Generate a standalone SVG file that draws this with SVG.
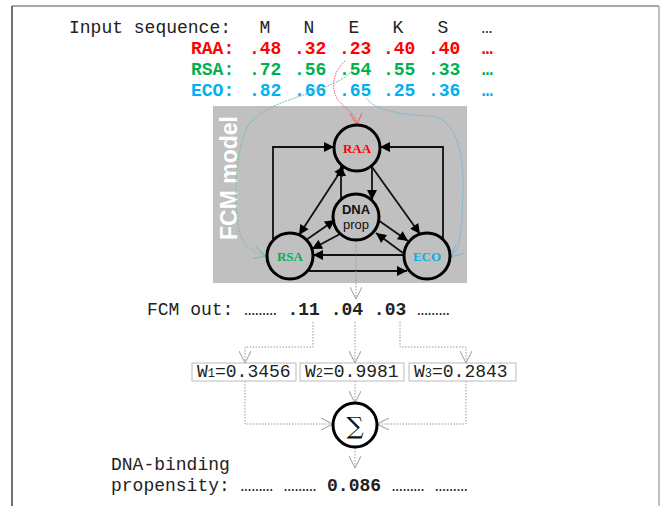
<svg xmlns="http://www.w3.org/2000/svg" width="666" height="506" viewBox="0 0 666 506">
<style>
.mono{font-family:"Liberation Mono","Courier New",monospace;font-size:18px;fill:#222}
.b{font-weight:bold}
.red{fill:#ff0000}.grn{fill:#00b050}.blu{fill:#00b0f0}
.node{fill:none;stroke:#000;stroke-width:3}
.edge{fill:none;stroke:#111;stroke-width:1.8}
.dot{fill:none;stroke:#999;stroke-width:1;stroke-dasharray:1.5 1.5}
.wbox{fill:#fff;stroke:#bbb;stroke-width:1}
.nl{font-family:"Liberation Serif","Times New Roman",serif;font-weight:bold;font-size:13px;text-anchor:middle}
.ns{font-family:"Liberation Sans",Arial,sans-serif;font-size:13px;text-anchor:middle;fill:#111}
</style>
<defs>
<marker id="ah" viewBox="0 0 10 10" refX="10" refY="5" markerWidth="12" markerHeight="10" markerUnits="userSpaceOnUse" orient="auto-start-reverse"><path d="M0,0 L10,5 L0,10 z" fill="#000"/></marker>
<marker id="v" viewBox="0 0 12 12" refX="12" refY="6" markerWidth="12" markerHeight="12" markerUnits="userSpaceOnUse" orient="auto"><path d="M0,0 L12,6 L0,12" fill="none" stroke="#999" stroke-width="1"/></marker>
<marker id="vr" viewBox="0 0 12 12" refX="12" refY="6" markerWidth="12" markerHeight="12" markerUnits="userSpaceOnUse" orient="auto"><path d="M0,0 L12,6 L0,12" fill="none" stroke="#f06060" stroke-width="1"/></marker>
<marker id="vg" viewBox="0 0 12 12" refX="12" refY="6" markerWidth="12" markerHeight="12" markerUnits="userSpaceOnUse" orient="auto"><path d="M0,0 L12,6 L0,12" fill="none" stroke="#70c0a0" stroke-width="1"/></marker>
<marker id="vb" viewBox="0 0 12 12" refX="12" refY="6" markerWidth="12" markerHeight="12" markerUnits="userSpaceOnUse" orient="auto"><path d="M0,0 L12,6 L0,12" fill="none" stroke="#70b8d8" stroke-width="1"/></marker>
</defs>

<!-- frame -->
<line x1="12" y1="6" x2="659" y2="6" stroke="#888" stroke-width="1.5"/>
<line x1="12" y1="6" x2="12" y2="506" stroke="#444" stroke-width="1.5"/>
<line x1="659" y1="6" x2="659" y2="506" stroke="#aaa" stroke-width="1.5"/>

<!-- input rows -->
<g id="input-rows">
<text class="mono" x="69" y="33">Input sequence:</text>
<g class="mono" text-anchor="middle">
<text x="265" y="33">M</text><text x="309" y="33">N</text><text x="354" y="33">E</text><text x="398" y="33">K</text><text x="443" y="33">S</text><text x="487" y="33">…</text>
</g>
<g class="mono b">
<text x="191" y="54" class="red">RAA:</text>
<text x="249" y="54" class="red">.48</text><text x="294" y="54" class="red">.32</text><text x="339" y="54" class="red">.23</text><text x="383" y="54" class="red">.40</text><text x="428" y="54" class="red">.40</text><text x="482" y="54" class="red">…</text>
</g>
<g class="mono b">
<text x="191" y="75" class="grn">RSA:</text>
<text x="249" y="75" class="grn">.72</text><text x="294" y="75" class="grn">.56</text><text x="339" y="75" class="grn">.54</text><text x="383" y="75" class="grn">.55</text><text x="428" y="75" class="grn">.33</text><text x="482" y="75" class="grn">…</text>
</g>
<g class="mono b">
<text x="191" y="96" class="blu">ECO:</text>
<text x="249" y="96" class="blu">.82</text><text x="294" y="96" class="blu">.66</text><text x="339" y="96" class="blu">.65</text><text x="383" y="96" class="blu">.25</text><text x="428" y="96" class="blu">.36</text><text x="482" y="96" class="blu">…</text>
</g>
</g>

<!-- FCM model box -->
<g id="fcm-model">
<rect x="213" y="106" width="254" height="177" fill="#c0c0c0"/>
<text transform="translate(237,178) rotate(-90)" text-anchor="middle" font-family="Liberation Sans,Arial,sans-serif" font-weight="bold" font-size="23" fill="#fff">FCM model</text>
</g>

<!-- connectors -->
<g id="connectors">
<polyline class="edge" points="273,239 273,147 334,147" marker-end="url(#ah)" stroke-width="2.2"/>
<polyline class="edge" points="443,239 443,147 380,147" marker-end="url(#ah)" stroke-width="2.2"/>
<line class="edge" x1="309" y1="271" x2="407" y2="271" marker-end="url(#ah)" stroke-width="2.2"/>
<line class="edge" x1="403" y1="255" x2="313" y2="255" marker-end="url(#ah)" stroke-width="2.2"/>
<line class="edge" x1="344" y1="166" x2="299" y2="235" marker-start="url(#ah)" marker-end="url(#ah)"/>
<line class="edge" x1="372" y1="165" x2="372" y2="200" marker-end="url(#ah)"/>
<line class="edge" x1="341" y1="201" x2="341" y2="166" marker-end="url(#ah)"/>
<line class="edge" x1="372" y1="167" x2="420" y2="234" marker-end="url(#ah)"/>
<line class="edge" x1="306" y1="240" x2="335" y2="220" marker-end="url(#ah)"/>
<line class="edge" x1="340" y1="234" x2="312" y2="249" marker-end="url(#ah)"/>
<line class="edge" x1="378" y1="220" x2="408" y2="241" marker-end="url(#ah)"/>
<line class="edge" x1="403" y1="253" x2="376" y2="233" marker-end="url(#ah)"/>
<path d="M345,61 C333,72 330,88 338,100 C345,109 356,112 357,125" fill="none" stroke="#f06060" stroke-width="1" stroke-dasharray="1.5 1" marker-end="url(#vr)"/>
<path d="M352,71 C330,95 262,98 247,128 C232,160 235,215 240,234 C245,248 255,253 266,256" fill="none" stroke="#70c0a0" stroke-width="1" stroke-dasharray="2 1" marker-end="url(#vg)"/>
<path d="M366,98 C375,110 400,115 430,116 C455,118 464,150 463,190 C462,228 461,248 451,257" fill="none" stroke="#70b8d8" stroke-width="1" stroke-dasharray="2 1" marker-end="url(#vb)"/>
<line class="dot" x1="356" y1="241" x2="356" y2="299" marker-end="url(#v)"/>
<polyline class="dot" points="313,322 313,347 245,347 245,363" marker-end="url(#v)"/>
<line class="dot" x1="355" y1="322" x2="355" y2="363" marker-end="url(#v)"/>
<polyline class="dot" points="400,322 400,347 466,347 466,363" marker-end="url(#v)"/>
<polyline class="dot" points="245,381 245,424 333,424" marker-end="url(#v)"/>
<line class="dot" x1="355" y1="381" x2="355" y2="403" marker-end="url(#v)"/>
<polyline class="dot" points="466,381 466,424 377,424" marker-end="url(#v)"/>
<line class="dot" x1="355" y1="448" x2="355" y2="468" marker-end="url(#v)"/>
</g>

<!-- nodes -->
<g id="node-raa"><circle class="node" cx="357" cy="148" r="23"/><text class="nl red" x="357" y="153">RAA</text></g>
<g id="node-dna"><circle class="node" cx="356" cy="217" r="23"/><text class="ns" x="356" y="214" font-weight="bold">DNA</text><text class="ns" x="356" y="229">prop</text></g>
<g id="node-rsa"><circle class="node" cx="290" cy="256" r="23"/><text class="nl grn" x="290" y="261">RSA</text></g>
<g id="node-eco"><circle class="node" cx="427" cy="256" r="23"/><text class="nl blu" x="427" y="261">ECO</text></g>

<!-- FCM out -->
<g id="fcm-out">
<text class="mono" x="147" y="315">FCM out: ……… <tspan class="b">.11 .04 .03</tspan> ………</text>
</g>

<!-- weights -->
<g id="w1"><rect class="wbox" x="192" y="363" width="104" height="18"/><text class="mono" x="197" y="377">W<tspan font-size="12">1</tspan>=0.3456</text></g>
<g id="w2"><rect class="wbox" x="300" y="363" width="104" height="18"/><text class="mono" x="305" y="377">W<tspan font-size="12">2</tspan>=0.9981</text></g>
<g id="w3"><rect class="wbox" x="409" y="363" width="107" height="18"/><text class="mono" x="414" y="377">W<tspan font-size="12">3</tspan>=0.2843</text></g>

<!-- sum -->
<g id="sum"><circle class="node" cx="355" cy="425" r="22"/><text x="355" y="434" text-anchor="middle" font-family="DejaVu Serif,serif" font-size="24" fill="#111">∑</text></g>

<!-- result -->
<g id="result">
<text class="mono" x="111" y="470">DNA-binding</text>
<text class="mono" x="111" y="491">propensity: ……… ……… <tspan class="b">0.086</tspan> ……… ………</text>
</g>
</svg>
